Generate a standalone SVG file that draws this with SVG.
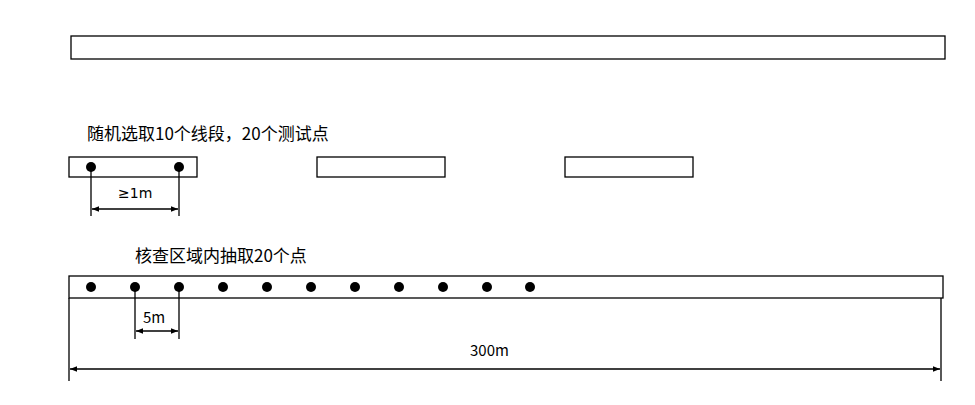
<svg xmlns="http://www.w3.org/2000/svg" width="975" height="405" viewBox="0 0 975 405">
<defs>
<marker id="a" viewBox="0 0 10 10" refX="10" refY="5" markerWidth="7" markerHeight="7" orient="auto-start-reverse" markerUnits="userSpaceOnUse"><path d="M0,1L10,5L0,9z" fill="#000"/></marker>
<style>
.b{fill:#fff;stroke:#000;stroke-width:1.3}
.l{stroke:#000;stroke-width:1.3;fill:none}
.d{stroke:#000;stroke-width:1.5;fill:none;marker-start:url(#a);marker-end:url(#a)}
text{font-family:"Noto Sans CJK SC","Noto Sans",sans-serif;font-size:15px;fill:#000}
.t{font-size:17px}
text.g{font-family:"DejaVu Sans",sans-serif;font-size:14px}
</style>
</defs>
<rect class="b" x="71" y="36" width="874" height="23"/>
<text class="t" x="87" y="140">随机选取10个线段，20个测试点</text>
<g id="seg1"><rect class="b" x="69" y="157" width="128" height="20"/></g>
<g id="seg2"><rect class="b" x="317" y="157" width="128" height="20"/></g>
<g id="seg3"><rect class="b" x="565" y="157" width="128" height="20"/></g>
<text class="t" x="135" y="262">核查区域内抽取20个点</text>
<g id="area"><rect class="b" x="69" y="276" width="874" height="22"/></g>
<g id="dots">
<circle cx="91" cy="167" r="5"/><circle cx="179" cy="167" r="5"/>
<circle cx="91" cy="287" r="5"/><circle cx="135" cy="287" r="5"/><circle cx="179" cy="287" r="5"/><circle cx="223" cy="287" r="5"/><circle cx="267" cy="287" r="5"/><circle cx="311" cy="287" r="5"/><circle cx="355" cy="287" r="5"/><circle cx="399" cy="287" r="5"/><circle cx="443" cy="287" r="5"/><circle cx="487" cy="287" r="5"/><circle cx="530" cy="287" r="5"/>
</g>
<g id="connectors">
<path class="l" d="M91,167V216M179,167V216M135,287V339M179,287V339M69,298V381M941,298V381"/>
<path class="d" d="M92,209H178"/>
<path class="d" d="M136,331H178"/>
<path class="d" d="M70,369H940"/>
</g>
<text class="g" x="118" y="198">≥1m</text>
<text x="143" y="323">5m</text>
<text x="470" y="356">300m</text>
</svg>
